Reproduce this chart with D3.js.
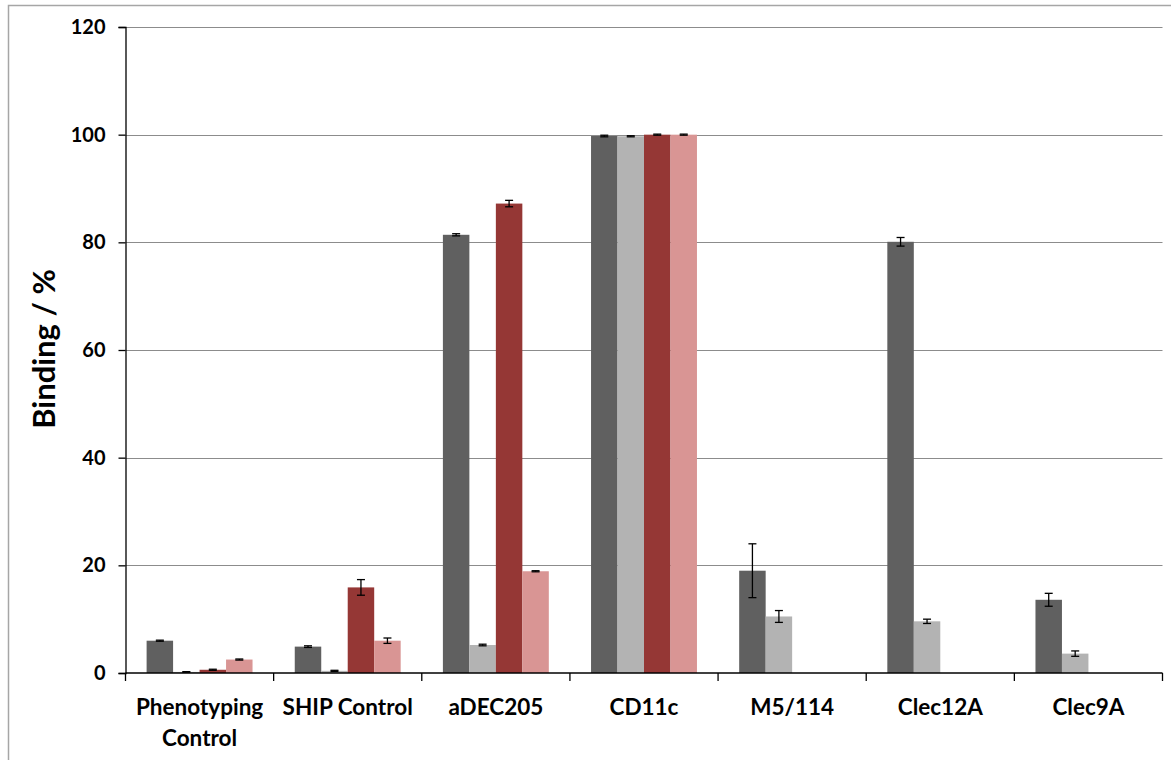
<!DOCTYPE html>
<html>
<head>
<meta charset="utf-8">
<script src="https://d3js.org/d3.v7.min.js"></script>
<style>
  html, body { margin: 0; padding: 0; background: #fff; }
  svg { display: block; }
  text { font-family: Lato, "Open Sans", "Liberation Sans", sans-serif; font-weight: bold; fill: #000; }
</style>
</head>
<body>
<svg id="chart" width="1171" height="760"></svg>
<script>
// Targets (x-axis categories); "\n" splits a label onto two lines
const categories = ["Phenotyping\nControl", "SHIP Control", "aDEC205", "CD11c", "M5/114", "Clec12A", "Clec9A"];
const seriesNames = ["s1", "s2", "s3", "s4"];
const seriesColors = ["#606060", "#b3b3b3", "#953735", "#d99594"];

// Binding (%) per series, one value per category (null = not measured)
const series1 = [6.0, 4.9, 81.4, 99.75, 19.0, 80.1, 13.6];
const series2 = [0.2, 0.4, 5.2, 99.7, 10.5, 9.6, 3.6];
const series3 = [0.6, 15.9, 87.2, 100.0, null, null, null];
const series4 = [2.5, 6.0, 18.9, 100.0, null, null, null];

// Error bar half-widths, same layout
const err1 = [0.1, 0.15, 0.2, 0.15, 5.0, 0.8, 1.2];
const err2 = [0.05, 0.1, 0.15, 0.1, 1.1, 0.4, 0.5];
const err3 = [0.1, 1.45, 0.6, 0.1, null, null, null];
const err4 = [0.1, 0.5, 0.1, 0.1, null, null, null];

const yTicks = [0, 20, 40, 60, 80, 100, 120];
const yLabel = "Binding / %";

const values = [series1, series2, series3, series4];
const errors = [err1, err2, err3, err4];

const svg = d3.select("#chart");
const margin = { left: 125.5, right: 1162.5, top: 27, bottom: 673 };

// outer frame
svg.append("rect")
  .attr("x", 8.5).attr("y", 5.5)
  .attr("width", 1200).attr("height", 800)
  .attr("fill", "none").attr("stroke", "#a6a6a6").attr("stroke-width", 1.5);

const y = d3.scaleLinear().domain([0, 120]).range([margin.bottom, margin.top]);
const x = d3.scaleBand().domain(categories).range([margin.left, margin.right])
  .paddingInner(0.285).paddingOuter(0.1425);
const xs = d3.scaleBand().domain(seriesNames).range([0, x.bandwidth()]);

// gridlines
svg.append("g").selectAll("line")
  .data(yTicks.filter(d => d > 0))
  .join("line")
  .attr("x1", margin.left).attr("x2", margin.right)
  .attr("y1", d => Math.round(y(d)) + 0.5).attr("y2", d => Math.round(y(d)) + 0.5)
  .attr("stroke", "#8c8c8c").attr("stroke-width", 1);

// bars
const rows = [];
categories.forEach((c, i) => {
  seriesNames.forEach((s, j) => {
    if (values[j][i] != null) rows.push({ c, s, j, v: values[j][i], e: errors[j][i] });
  });
});

svg.append("g").selectAll("rect")
  .data(rows)
  .join("rect")
  .attr("x", d => x(d.c) + xs(d.s))
  .attr("width", xs.bandwidth())
  .attr("y", d => y(d.v))
  .attr("height", d => y(0) - y(d.v))
  .attr("fill", d => seriesColors[d.j]);

// error bars
const eg = svg.append("g").attr("stroke", "#000").attr("stroke-width", 1.3);
rows.forEach(d => {
  const cx = x(d.c) + xs(d.s) + xs.bandwidth() / 2;
  const y1 = y(d.v + d.e), y2 = y(d.v - d.e);
  eg.append("line").attr("x1", cx).attr("x2", cx).attr("y1", y1).attr("y2", y2);
  eg.append("line").attr("x1", cx - 4).attr("x2", cx + 4).attr("y1", y1).attr("y2", y1);
  eg.append("line").attr("x1", cx - 4).attr("x2", cx + 4).attr("y1", y2).attr("y2", y2);
});

// y axis
const yAxis = svg.append("g")
  .attr("transform", `translate(${margin.left},0)`)
  .call(d3.axisLeft(y).tickValues(yTicks).tickSize(7).tickPadding(13).tickFormat(d3.format("d")));
yAxis.select(".domain").attr("stroke", "#000").attr("stroke-width", 1.3);
yAxis.selectAll(".tick line").attr("stroke", "#000").attr("stroke-width", 1.3);
yAxis.selectAll(".tick text").style("font-size", "20px").attr("fill", "#000");

// x axis with tick marks at category boundaries
const xAxisG = svg.append("g");
xAxisG.append("line")
  .attr("x1", margin.left).attr("x2", margin.right)
  .attr("y1", y(0)).attr("y2", y(0))
  .attr("stroke", "#000").attr("stroke-width", 1.3);
const step = x.step();
const bounds = d3.range(categories.length + 1).map(i => margin.left + i * step);
xAxisG.selectAll("line.b")
  .data(bounds)
  .join("line").attr("class", "b")
  .attr("x1", d => d).attr("x2", d => d)
  .attr("y1", y(0)).attr("y2", y(0) + 8)
  .attr("stroke", "#000").attr("stroke-width", 1.3);

xAxisG.selectAll("text.cat")
  .data(categories)
  .join("text").attr("class", "cat")
  .attr("text-anchor", "middle")
  .style("font-size", "22.5px")
  .each(function (d) {
    const t = d3.select(this);
    d.split("\n").forEach((line, k) => {
      t.append("tspan")
        .attr("x", x(d) + x.bandwidth() / 2)
        .attr("y", 715 + k * 31)
        .text(line);
    });
  });

// y axis title
svg.append("text")
  .attr("transform", "translate(55,349) rotate(-90)")
  .attr("text-anchor", "middle")
  .style("font-size", "31px")
  .text(yLabel);
</script>
</body>
</html>
